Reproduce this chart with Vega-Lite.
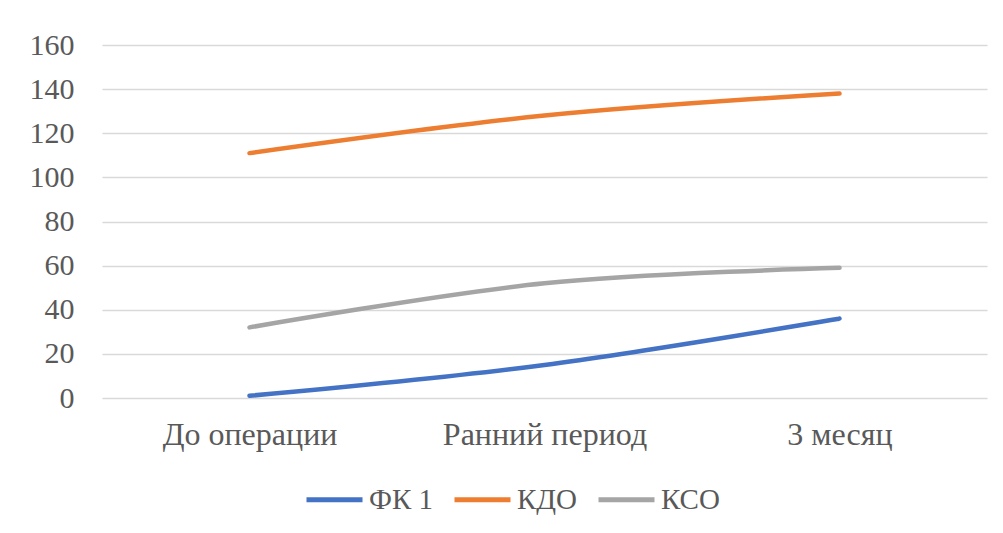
{
  "$schema": "https://vega.github.io/schema/vega-lite/v6.json",
  "autosize": {"type": "none"},
  "width": 885,
  "height": 353,
  "padding": {"left": 102, "top": 45, "right": 16, "bottom": 135},
  "background": "white",
  "config": {
    "view": {"stroke": null},
    "font": "Liberation Serif"
  },
  "data": {
    "values": [
      {"period": "До операции", "series": "ФК 1", "value": 1},
      {"period": "Ранний период", "series": "ФК 1", "value": 15},
      {"period": "3 месяц", "series": "ФК 1", "value": 36},
      {"period": "До операции", "series": "КДО", "value": 111},
      {"period": "Ранний период", "series": "КДО", "value": 128},
      {"period": "3 месяц", "series": "КДО", "value": 138},
      {"period": "До операции", "series": "КСО", "value": 32},
      {"period": "Ранний период", "series": "КСО", "value": 52},
      {"period": "3 месяц", "series": "КСО", "value": 59}
    ]
  },
  "mark": {"type": "line", "interpolate": "catmull-rom", "strokeWidth": 4.5, "strokeCap": "round", "strokeJoin": "round"},
  "encoding": {
    "x": {
      "field": "period",
      "type": "nominal",
      "sort": ["До операции", "Ранний период", "3 месяц"],
      "scale": {"type": "point", "padding": 0.5},
      "axis": {
        "title": null,
        "labelAngle": 0,
        "ticks": false,
        "domain": false,
        "grid": false,
        "labelFont": "Liberation Serif",
        "labelFontSize": 32,
        "labelColor": "#595959",
        "labelPadding": 21,
        "labelLimit": 0
      }
    },
    "y": {
      "field": "value",
      "type": "quantitative",
      "scale": {"domain": [0, 160], "nice": false},
      "axis": {
        "title": null,
        "values": [0, 20, 40, 60, 80, 100, 120, 140, 160],
        "ticks": false,
        "domain": false,
        "gridColor": "#d9d9d9",
        "gridWidth": 1.5,
        "labelFont": "Liberation Serif",
        "labelFontSize": 30,
        "labelColor": "#595959",
        "labelPadding": 28
      }
    },
    "color": {
      "field": "series",
      "type": "nominal",
      "sort": ["ФК 1", "КДО", "КСО"],
      "scale": {"domain": ["ФК 1", "КДО", "КСО"], "range": ["#4472C4", "#ED7D31", "#A5A5A5"]},
      "legend": {
        "title": null,
        "orient": "none",
        "direction": "horizontal",
        "legendX": 202,
        "legendY": 424,
        "symbolType": "stroke",
        "symbolSize": 3136,
        "symbolStrokeWidth": 5,
        "labelFont": "Liberation Serif",
        "labelFontSize": 29,
        "labelColor": "#595959",
        "labelOffset": 4,
        "columnPadding": 10,
        "labelLimit": 0
      }
    }
  }
}
